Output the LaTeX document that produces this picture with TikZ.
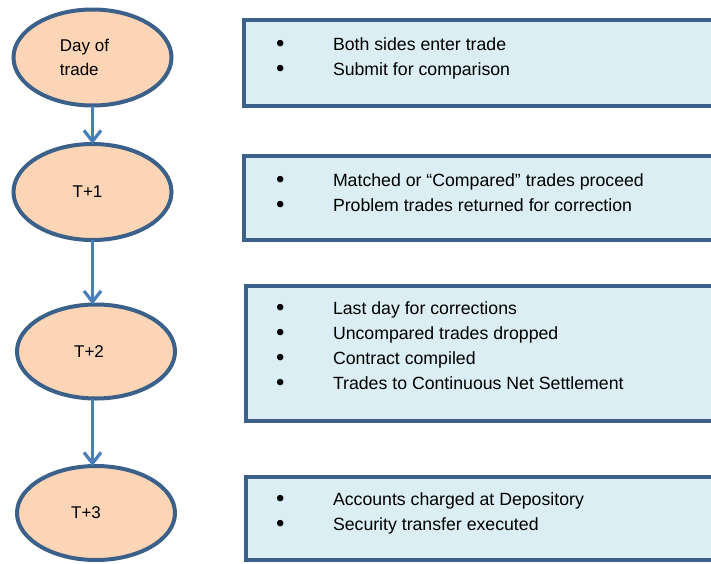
\documentclass[tikz,border=0pt]{standalone}
\usepackage{fontspec}
\setmainfont{Liberation Sans}
\usetikzlibrary{arrows.meta, positioning, shapes.geometric}

\definecolor{peach}{HTML}{FBD5B5}
\definecolor{edgeblue}{HTML}{3B6089}
\definecolor{paleblue}{HTML}{DBEEF4}
\definecolor{arrowblue}{HTML}{4A7EBB}

\tikzset{
  day/.style={ellipse, draw=edgeblue, line width=4pt, fill=peach,
    minimum width=158pt, minimum height=96pt, inner sep=0pt, outer sep=0pt,
    align=left, font=\fontsize{17}{24}\selectfont},
  panel/.style={rectangle, draw=edgeblue, line width=4.5pt, fill=paleblue,
    anchor=north west, minimum width=520pt, inner sep=0pt, outer sep=0pt},
  items/.style={anchor=north west, inner sep=0pt, outer sep=0pt,
    align=left, font=\fontsize{17.7}{25}\selectfont},
  flow/.style={draw=arrowblue, line width=3.2pt,
    -{Straight Barb[length=11pt,width=17pt]}},
}
\newcommand{\bul}{\makebox[57pt][l]{\raisebox{-0.8pt}{\scalebox{1.35}{\textbullet}}}}

\begin{document}
\begin{tikzpicture}[x=1pt, y=-1pt]
  \useasboundingbox (0,0) rectangle (711,563);
  \clip (0,0) rectangle (711,563);
  % Define days
  \node[day] (d0) at (92.5,57.5) {Day of\hspace*{16pt}\\trade};
  \node[day] (d1) at (92.5,192) {T+1\hspace*{10pt}};
  \node[day, minimum height=94pt] (d2) at (96,351.5) {T+2\hspace*{14pt}};
  \node[day, minimum height=94pt] (d3) at (96,513) {T+3\hspace*{20pt}};
  % Define panels
  \node[panel, minimum height=86pt] (p0) at (244,20) {};
  \node[panel, minimum height=84pt] (p1) at (244,156) {};
  \node[panel, minimum height=135pt] (p2) at (246,286) {};
  \node[panel, minimum height=83pt] (p3) at (246,477) {};
  % Panel texts
  \node[items, below right=18pt and 32pt of p0.north west] (t0)
    {\bul Both sides enter trade\\\bul Submit for comparison};
  \node[items, below right=18pt and 32pt of p1.north west] (t1)
    {\bul Matched or “Compared” trades proceed\\\bul Problem trades returned for correction};
  \node[items, below right=16pt and 30pt of p2.north west] (t2)
    {\bul Last day for corrections\\\bul Uncompared trades dropped\\
     \bul Contract compiled\\\bul Trades to Continuous Net Settlement};
  \node[items, below right=16pt and 30pt of p3.north west] (t3)
    {\bul Accounts charged at Depository\\\bul Security transfer executed};
  % Draw arrows
  \draw[flow] (d0.south) -- (d1.north);
  \draw[flow] (d1.south) -- (d1.south |- d2.north);
  \draw[flow] (d2.south -| d1.south) -- (d1.south |- d3.north);
\end{tikzpicture}
\end{document}
